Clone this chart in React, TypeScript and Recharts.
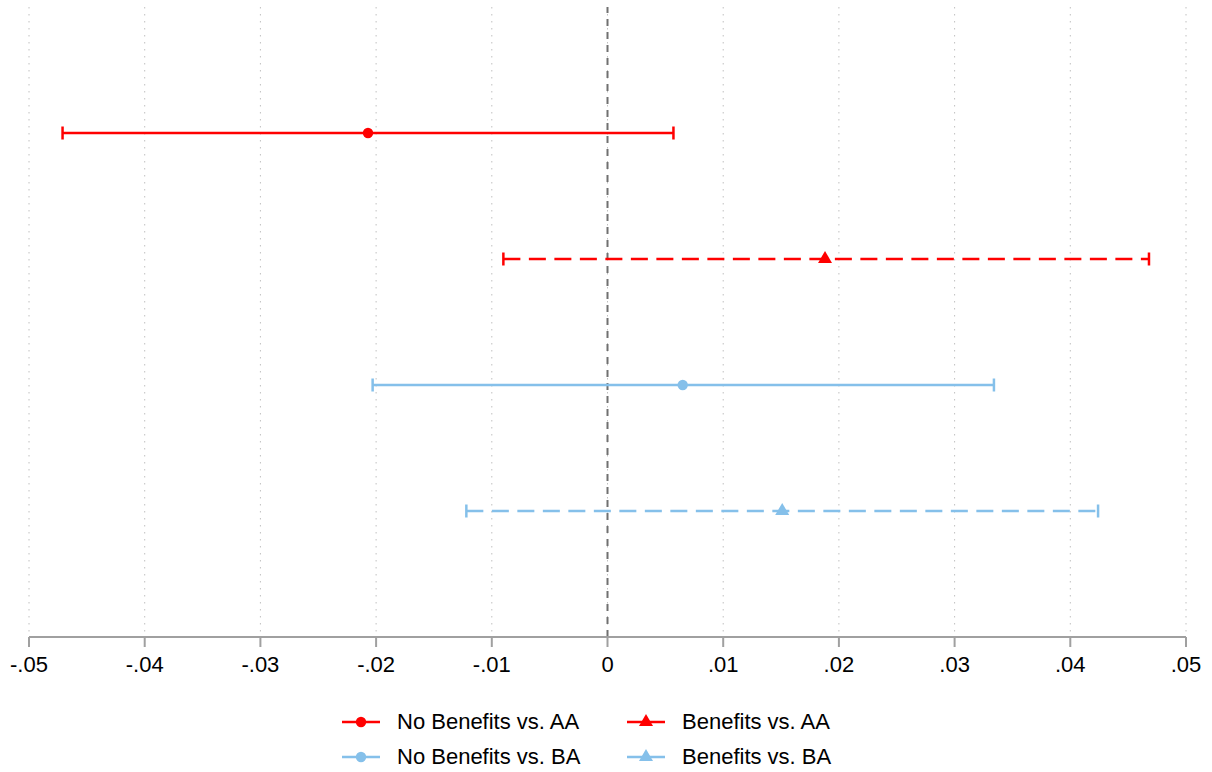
import React from "react";
import {
  ScatterChart,
  Scatter,
  XAxis,
  YAxis,
  CartesianGrid,
  ReferenceLine,
  ErrorBar,
  Legend,
} from "recharts";

const seriesNames = [
  "No Benefits vs. AA",
  "Benefits vs. AA",
  "No Benefits vs. BA",
  "Benefits vs. BA",
];
const estimates = [-0.0207, 0.0188, 0.0065, 0.0151];
const lowerBounds = [-0.0471, -0.009, -0.0203, -0.0122];
const upperBounds = [0.0057, 0.0468, 0.0334, 0.0424];
const rowPositions = [1, 2, 3, 4];
const seriesColors = ["#ff0000", "#ff0000", "#85c0ea", "#85c0ea"];
const seriesMarkers = ["circle", "triangle", "circle", "triangle"];
const seriesDashed = [false, true, false, true];

const xTicks = [-0.05, -0.04, -0.03, -0.02, -0.01, 0, 0.01, 0.02, 0.03, 0.04, 0.05];
const xTickLabels = ["-.05", "-.04", "-.03", "-.02", "-.01", "0", ".01", ".02", ".03", ".04", ".05"];

const FONT = "'Liberation Sans', Arial, Helvetica, sans-serif";

const Marker = ({ cx, cy, kind, color }: any) => {
  if (cx == null || cy == null) return null;
  if (kind === "triangle") {
    const s = 14;
    const h = (s * Math.sqrt(3)) / 2;
    const pts = `${cx},${cy - (2 * h) / 3} ${cx - s / 2},${cy + h / 3} ${cx + s / 2},${cy + h / 3}`;
    return <polygon points={pts} fill={color} stroke="none" />;
  }
  return <circle cx={cx} cy={cy} r={5.2} fill={color} stroke="none" />;
};

const LegendContent = () => {
  const order = [0, 1, 2, 3];
  return (
    <div
      style={{
        width: 1212,
        height: 85,
        position: "relative",
        fontFamily: FONT,
        fontSize: 22,
        color: "#000",
      }}
    >
      {order.map((i) => {
        const col = i % 2;
        const row = Math.floor(i / 2);
        const left = 341 + col * 285;
        const top = 35 + row * 35 - 17;
        return (
          <div
            key={i}
            style={{
              position: "absolute",
              left,
              top,
              height: 34,
              display: "flex",
              alignItems: "center",
              whiteSpace: "nowrap",
            }}
          >
            <svg width={40} height={34} style={{ display: "block" }}>
              <line x1={1} y1={17} x2={39} y2={17} stroke={seriesColors[i]} strokeWidth={2.5} />
              <Marker cx={20} cy={17} kind={seriesMarkers[i]} color={seriesColors[i]} />
            </svg>
            <span style={{ marginLeft: 16 }}>{seriesNames[i]}</span>
          </div>
        );
      })}
    </div>
  );
};

export default function App() {
  const series = seriesNames.map((name, i) => ({
    name,
    data: [
      {
        x: estimates[i],
        y: rowPositions[i],
        err: [estimates[i] - lowerBounds[i], upperBounds[i] - estimates[i]],
      },
    ],
  }));

  return (
    <div style={{ position: "absolute", left: 0, top: 0, background: "#fff" }}>
      <ScatterChart
        width={1212}
        height={772}
        margin={{ top: 7, right: 26, left: 29, bottom: 0 }}
        style={{ fontFamily: FONT }}
      >
        <CartesianGrid
          horizontal={false}
          vertical={true}
          stroke="#c0c0c0"
          strokeDasharray="1.5 5.5"
          strokeWidth={1}
        />
        <XAxis
          type="number"
          dataKey="x"
          domain={[-0.05, 0.05]}
          ticks={xTicks}
          tickFormatter={(v: number) => {
            const idx = xTicks.findIndex((t) => Math.abs(t - v) < 1e-9);
            return idx >= 0 ? xTickLabels[idx] : String(v);
          }}
          interval={0}
          allowDataOverflow
          height={50}
          tickSize={10}
          tickMargin={9}
          axisLine={{ stroke: "#a0a0a0", strokeWidth: 2 }}
          tickLine={{ stroke: "#a0a0a0", strokeWidth: 2 }}
          tick={{ fill: "#000", fontSize: 22, fontFamily: FONT }}
        />
        <YAxis type="number" dataKey="y" domain={[0, 5]} reversed hide />
        <ReferenceLine x={0} stroke="#707070" strokeWidth={2} strokeDasharray="7 6" />
        {series.map((s, i) => (
          <Scatter
            key={s.name}
            name={s.name}
            data={s.data}
            fill={seriesColors[i]}
            isAnimationActive={false}
            shape={(props: any) => (
              <Marker cx={props.cx} cy={props.cy} kind={seriesMarkers[i]} color={seriesColors[i]} />
            )}
          >
            <ErrorBar
              dataKey="err"
              direction="x"
              width={6.5}
              stroke={seriesColors[i]}
              strokeWidth={2.5}
              strokeDasharray={seriesDashed[i] ? "17 8.5" : undefined}
              isAnimationActive={false}
            />
          </Scatter>
        ))}
        <Legend
          verticalAlign="bottom"
          height={85}
          wrapperStyle={{ left: 0, width: 1212 }}
          content={<LegendContent />}
        />
      </ScatterChart>
    </div>
  );
}
